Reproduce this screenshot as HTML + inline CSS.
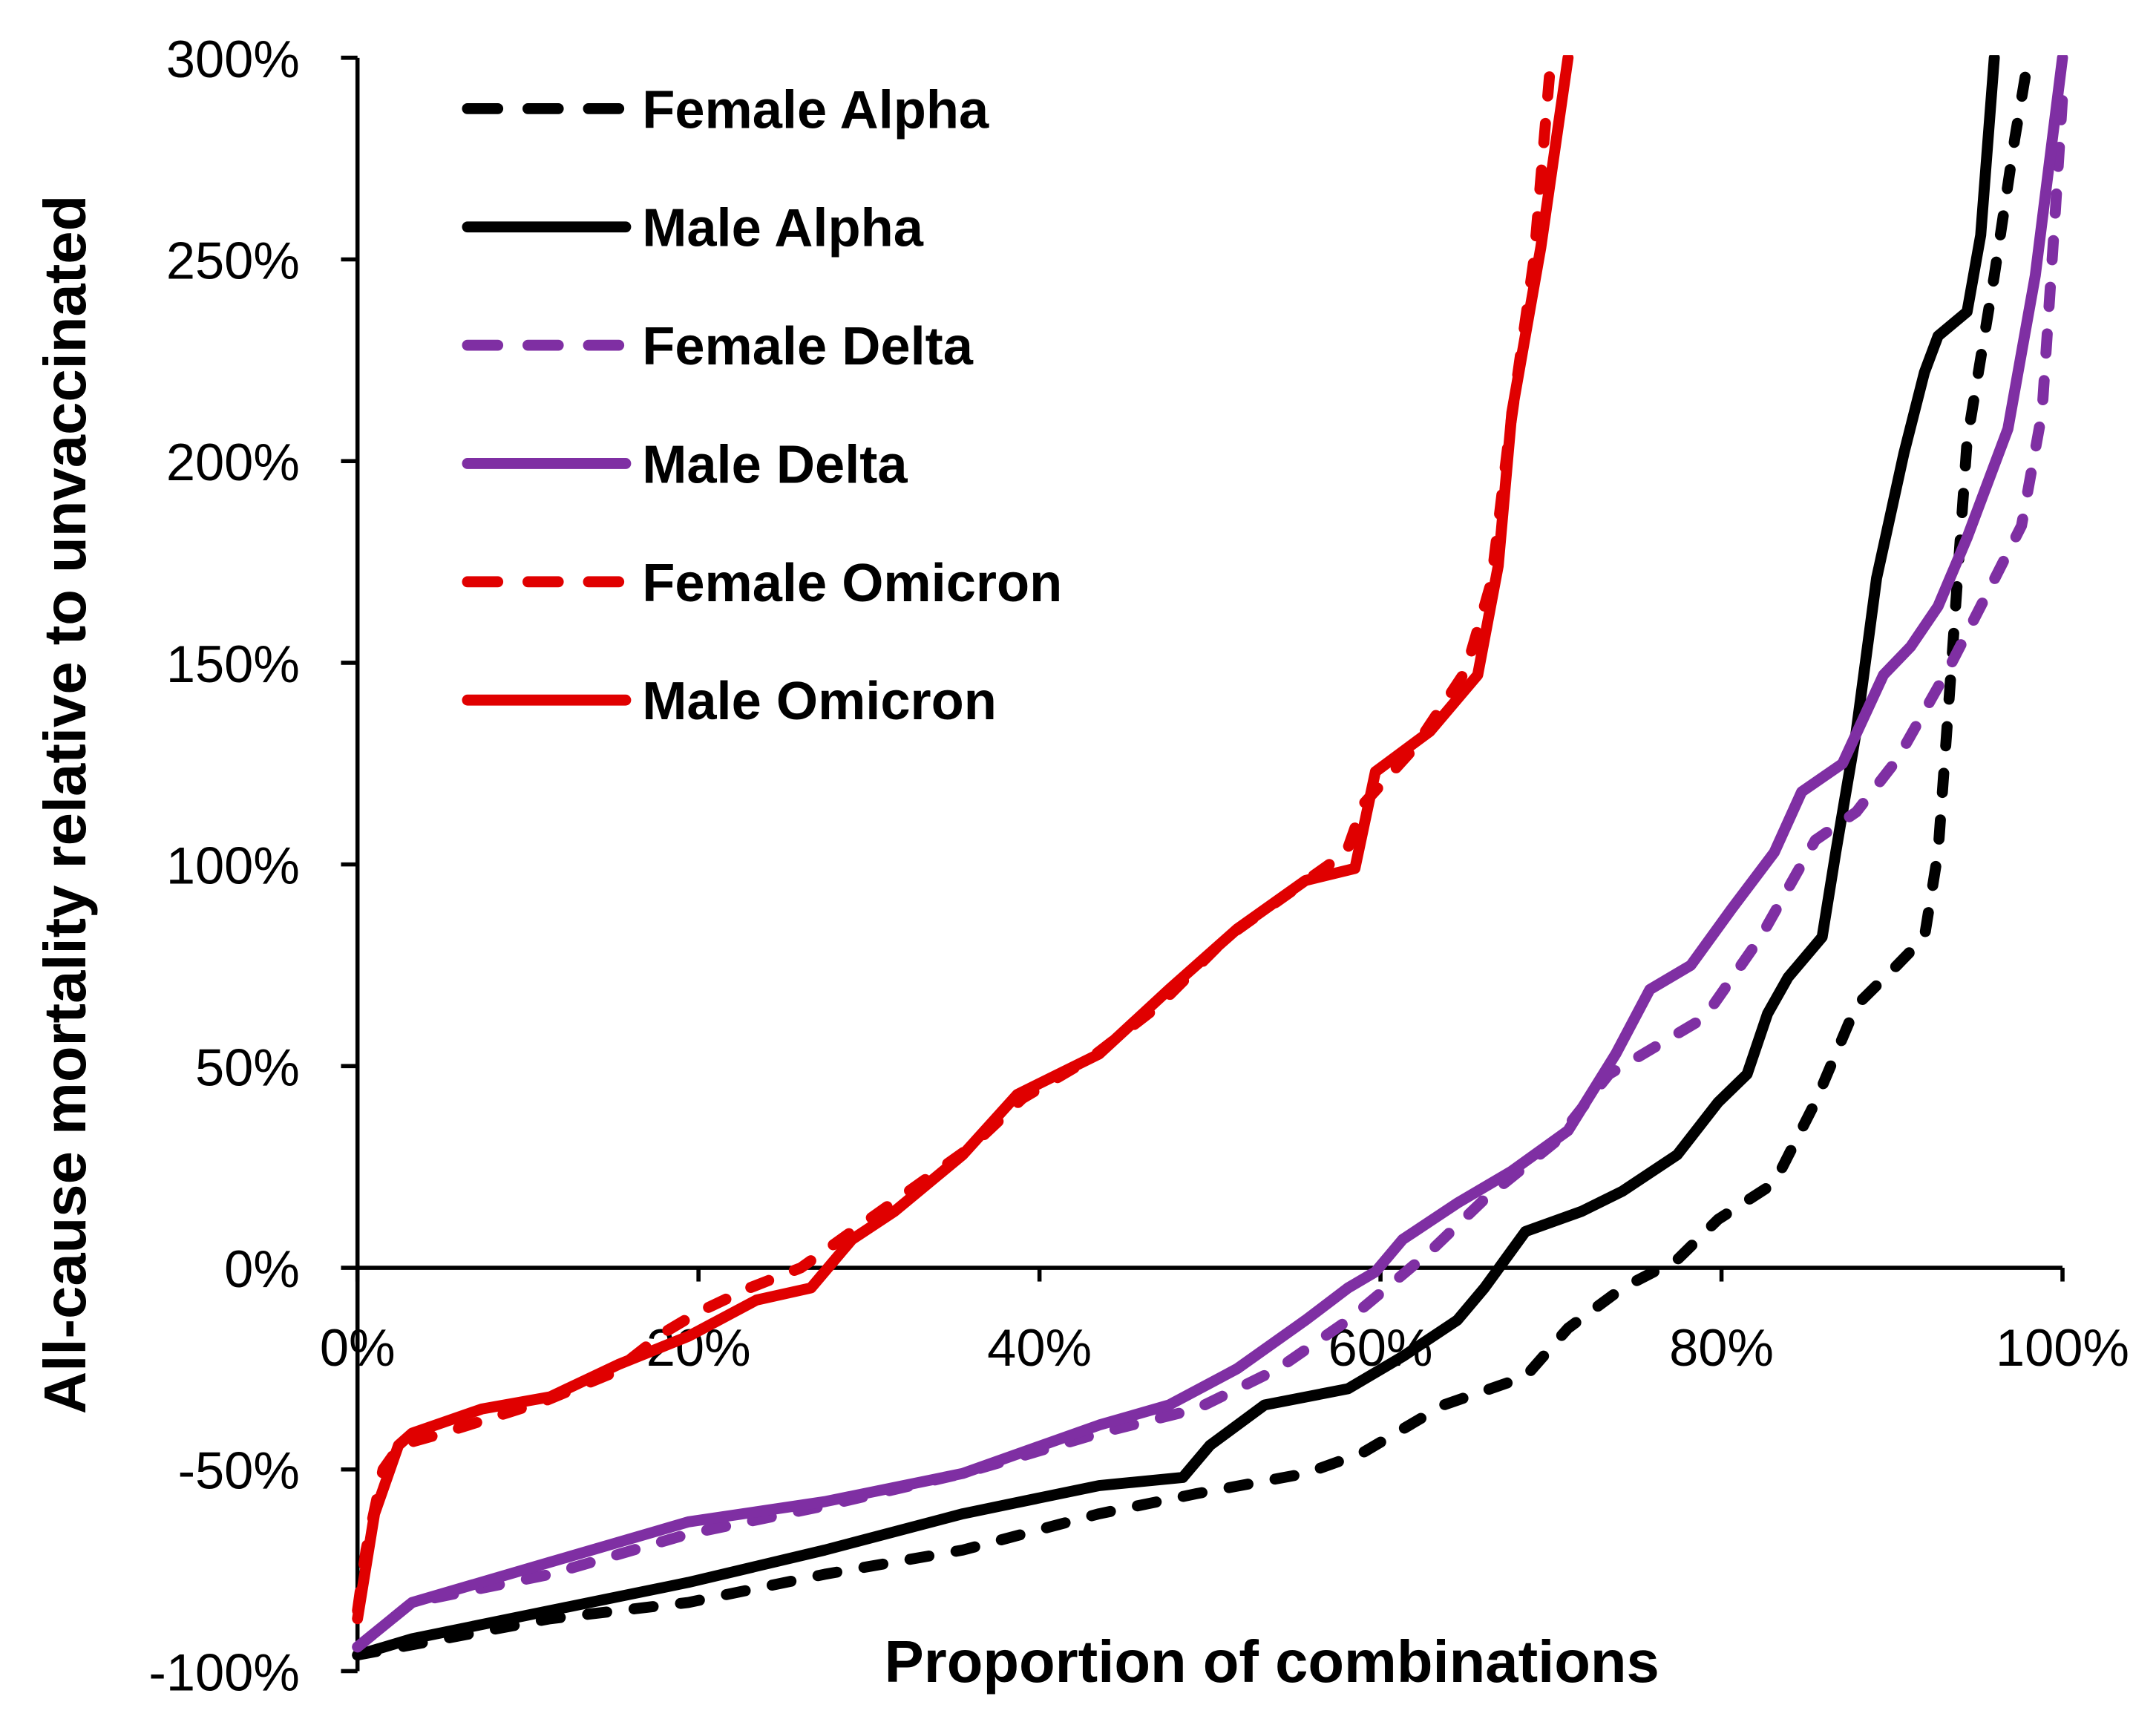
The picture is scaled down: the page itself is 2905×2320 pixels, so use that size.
<!DOCTYPE html>
<html><head><meta charset="utf-8"><style>html,body{margin:0;padding:0;background:#fff;}svg{display:block}</style></head>
<body>
<svg id="chart" width="2905" height="2320" viewBox="0 0 1568 1252" preserveAspectRatio="none" xmlns="http://www.w3.org/2000/svg" font-family="'Liberation Sans', sans-serif">
<defs><clipPath id="plotclip"><rect x="255" y="40" width="1260" height="1180"/></clipPath></defs>
<g id="axes"></g>
<g id="series" clip-path="url(#plotclip)"></g>
<g id="legend"></g>
</svg>
<script>
const yTicks = [-100,-50,0,50,100,150,200,250,300];
const xTicks = [0,20,40,60,80,100];
const seriesNames = ["Female Alpha","Male Alpha","Female Delta","Male Delta","Female Omicron","Male Omicron"];
const seriesColors = ["#000000","#000000","#7f2fa3","#7f2fa3","#e00000","#e00000"];
const seriesDashed = [true,false,true,false,true,false];
const femaleAlphaX = [0,11.3,19.4,27.4,35.5,43.5,49.2,55.6,58.9,63.7,68.5,71,74.2,77.4,79.8,83.1,85.5,87.9,90.3,91.9,92.7,93.5,94.4,96,97.2,98];
const femaleAlphaY = [-96,-87,-83,-76,-70,-61,-56,-51,-46,-34,-27,-15,-5,2,12,21,41,65,75,82,103,150,205,246,280,300];
const maleAlphaX = [0,3.2,11.3,19.4,27.4,35.5,43.5,48.4,50,53.2,58.1,61.3,64.5,66.1,68.5,71.8,74.2,77.4,79.8,81.5,82.7,83.9,85.9,86.7,87.9,89.1,90.7,91.9,92.7,94.4,95.2,96];
const maleAlphaY = [-96,-92,-85,-78,-70,-61,-54,-52,-44,-34,-30,-22,-13,-5,9,14,19,28,41,48,63,72,82,103,133,171,202,222,231,237,256,300];
const femaleDeltaX = [0,3.2,11.3,19.4,27.4,35.5,43.5,49.2,54,58.1,62.9,66.1,70.2,73.4,79,82.3,85.5,87.9,90.3,93.5,95.2,97.6,98.8,99.6,100];
const femaleDeltaY = [-94,-83,-76,-66,-59,-51,-41,-35,-25,-13,4,17,31,48,62,82,106,113,126,150,164,184,212,263,290];
const maleDeltaX = [0,3.2,11.3,19.4,27.4,35.5,43.5,47.6,51.6,55.6,58.1,59.7,61.3,64.5,67.7,71,73.8,75.8,78.2,80.6,83.1,84.7,87.1,89.5,91.1,92.7,94.4,96.8,98.4,100];
const maleDeltaY = [-94,-83,-73,-63,-58,-51,-39,-34,-25,-13,-5,-1,7,16,24,34,53,69,75,89,103,118,125,147,154,164,181,208,246,300];
const femaleOmicronX = [0,0.5,1.5,2.5,5,8,11,15,18,20,23,26,29,32,36,39,43,47,51,55,58,59,62,65,66.5,67.5,69,70];
const femaleOmicronY = [-85,-70,-50,-44,-41,-37,-33,-26,-16,-11,-5,0,9,18,30,42,52,65,82,94,103,115,129,148,170,205,250,300];
const maleOmicronX = [0,1,2.4,3.2,7.3,11.3,15.3,19.4,23.4,26.6,29,31.5,35.5,38.7,43.5,47.6,51.6,55.6,58.5,59.7,62.9,65.7,66.9,67.7,69.4,71];
const maleOmicronY = [-87,-61,-44,-41,-35,-32,-24,-17,-8,-5,7,14,28,43,53,69,84,96,99,123,133,147,174,212,253,300];
const allX = [femaleAlphaX,maleAlphaX,femaleDeltaX,maleDeltaX,femaleOmicronX,maleOmicronX];
const allY = [femaleAlphaY,maleAlphaY,femaleDeltaY,maleDeltaY,femaleOmicronY,maleOmicronY];

const NS="http://www.w3.org/2000/svg";
const X0=260,X1=1500,YT=42,YB=1215;
function xs(p){return X0+(p/100)*(X1-X0);}
function ys(v){return YB-(v+100)/400*(YB-YT);}
function mk(tag,attrs,parent){const e=document.createElementNS(NS,tag);for(const k in attrs)e.setAttribute(k,attrs[k]);parent.appendChild(e);return e;}
const axes=document.getElementById('axes'),series=document.getElementById('series'),legend=document.getElementById('legend');

let e=mk('line',{x1:X0,y1:YT,x2:X0,y2:YB,stroke:'#000','stroke-width':3},axes);


e=mk('line',{x1:X0,y1:ys(0),x2:X1,y2:ys(0),stroke:'#000','stroke-width':3},axes);


yTicks.forEach(v=>{
  let t=mk('line',{x1:X0-12,y1:ys(v),x2:X0,y2:ys(v),stroke:'#000','stroke-width':3},axes);
  
  
  let l=mk('text',{x:218,y:ys(v)+14,'text-anchor':'end','font-size':38},axes);
  l.textContent=v+'%';
  
  
});
xTicks.forEach(p=>{
  let t=mk('line',{x1:xs(p),y1:ys(0),x2:xs(p),y2:ys(0)+10,stroke:'#000','stroke-width':3},axes);
  
  
  let l=mk('text',{x:xs(p),y:993,'text-anchor':'middle','font-size':38},axes);
  l.textContent=p+'%';
  
  
});
let yt=mk('text',{x:0,y:0,'text-anchor':'middle','font-size':43,'font-weight':'bold',transform:'translate(62,585) rotate(-90)'},axes);
yt.textContent='All-cause mortality relative to unvaccinated';


let xt=mk('text',{x:925,y:1223,'text-anchor':'middle','font-size':43,'font-weight':'bold'},axes);
xt.textContent='Proportion of combinations';



allX.forEach((xa,i)=>{
  const d=xa.map((p,j)=>(j?'L':'M')+xs(p).toFixed(1)+','+ys(allY[i][j]).toFixed(1)).join(' ');
  const attrs={d:d,fill:'none',stroke:seriesColors[i],'stroke-width':8,'stroke-linejoin':'round','stroke-linecap':'round'};
  if(seriesDashed[i])attrs['stroke-dasharray']='14 20';
  const pth=mk('path',attrs,series);
  
  
  const ly=79+i*86;
  const la={x1:340,y1:ly,x2:455,y2:ly,stroke:seriesColors[i],'stroke-width':8,'stroke-linecap':'round'};
  if(seriesDashed[i])la['stroke-dasharray']='22 22';
  const ll=mk('line',la,legend);
  
  
  const lt=mk('text',{x:467,y:ly+14,'font-size':39,'font-weight':'bold'},legend);
  lt.textContent=seriesNames[i];
  
  
});
</script>
</body></html>
